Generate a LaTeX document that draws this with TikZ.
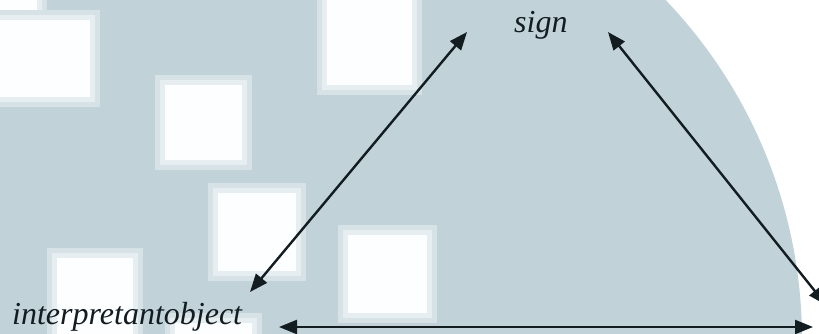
\documentclass[tikz,border=0pt]{standalone}
\usepackage{fontspec}
\setmainfont{Liberation Serif}
\usetikzlibrary{arrows.meta}
\definecolor{bgc}{HTML}{C1D3D9}
\definecolor{fringec}{HTML}{D6E2E6}
\definecolor{fringeb}{HTML}{E6EEF1}
\definecolor{sqc}{HTML}{FDFEFF}
\definecolor{inkc}{HTML}{121C21}
\tikzset{
  lbl/.style={inner sep=0pt, text=inkc, font=\fontsize{32}{36}\selectfont\itshape, anchor=base west},
  link/.style={draw=inkc, line width=2.4pt, {Triangle[length=18pt,width=14pt]}-{Triangle[length=18pt,width=14pt]}},
}
\newcommand{\sqbox}[4]{%
  \fill[fringec] (#1-10,#2-10) rectangle (#3+10,#4+10);
  \fill[fringeb] (#1-5,#2-5) rectangle (#3+5,#4+5);
  \fill[sqc] (#1,#2) rectangle (#3,#4);}
\begin{document}
\begin{tikzpicture}[x=1pt,y=-1pt]
\useasboundingbox (0,0) rectangle (819,334);
\clip (0,0) rectangle (819,334);
\fill[white] (0,0) rectangle (819,334);
\fill[bgc] (310,340) circle[radius=492pt];
% squares
\fill[fringec] (-10,-10) rectangle (47,20);
\fill[fringeb] (-10,-10) rectangle (42,15);
\fill[sqc] (0,0) rectangle (37,10);
\sqbox{0}{20}{90}{97}
\sqbox{165}{85}{242}{160}
\sqbox{327}{0}{412}{85}
\sqbox{218}{193}{296}{271}
\sqbox{57}{258}{133}{340}
\sqbox{348}{235}{427}{313}
\sqbox{175}{323}{252}{400}
% labels
\node[lbl] (sign) at (514,33) {sign};
\node[lbl] (interp) at (12,324) {interpretantobject};
% connector ends
\coordinate (sL) at (467,32);
\coordinate (iT) at (250,292);
\coordinate (sR) at (608,32);
\coordinate (oT) at (826,305);
\coordinate (iR) at (279,327);
\coordinate (oL) at (813,327);
\draw[link] (iT) -- (sL);
\draw[link] (sR) -- (oT);
\draw[link] (iR) -- (oL);
\end{tikzpicture}
\end{document}
